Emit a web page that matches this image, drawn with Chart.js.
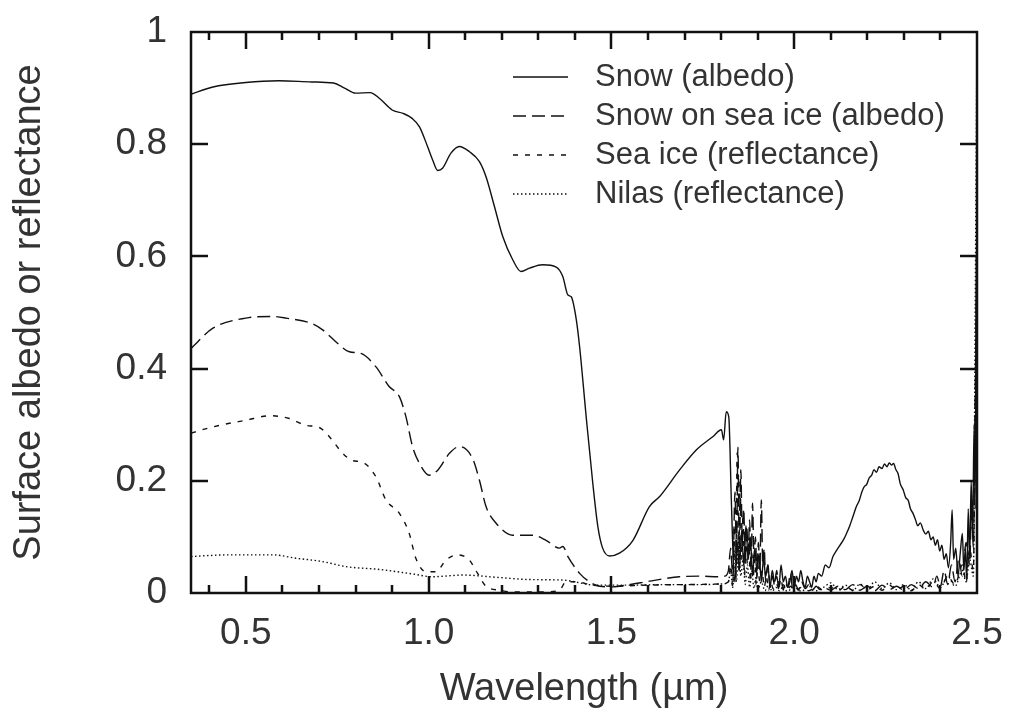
<!DOCTYPE html>
<html><head><meta charset="utf-8">
<script src="https://cdn.jsdelivr.net/npm/chart.js@4.4.1/dist/chart.umd.min.js"></script>
<style>html,body{margin:0;padding:0;background:#fff;overflow:hidden}</style>
</head><body>
<canvas id="c" width="1009" height="719"></canvas>
<script>
const seriesLabels = ['Snow (albedo)', 'Snow on sea ice (albedo)', 'Sea ice (reflectance)', 'Nilas (reflectance)'];
const xTickValues = [0.5, 1.0, 1.5, 2.0, 2.5];
const xMinorTicks = [0.4,0.5,0.6,0.7,0.8,0.9,1.0,1.1,1.2,1.3,1.4,1.5,1.6,1.7,1.8,1.9,2.0,2.1,2.2,2.3,2.4];
const yTickValues = [0, 0.2, 0.4, 0.6, 0.8, 1];

const snowWl = [
0.35,0.41,0.50,0.59,0.68,0.74,0.77,0.80,0.84,0.865,
0.90,0.93,0.955,0.975,0.997,1.011,1.025,1.038,1.061,1.084,
1.111,1.139,1.157,1.18,1.203,1.23,1.253,1.276,1.312,1.349,
1.367,1.381,1.39,1.404,1.413,1.431,1.449,1.463,1.476,1.495,
1.522,1.559,1.604,1.632,1.686,1.732,1.778,1.801,1.807,1.814,
1.821,1.828,1.834,
1.838,1.844,1.850,1.856,1.862,1.868,1.874,1.880,1.886,1.892,
1.898,1.904,1.910,1.916,1.922,1.928,1.934,1.940,1.946,1.952,
1.958,1.964,1.970,1.976,1.982,1.988,1.994,2.000,2.006,2.012,
2.018,2.024,2.030,2.036,2.042,2.048,2.054,2.060,2.066,
2.075,2.085,2.095,2.106,2.115,2.125,2.135,2.143,2.152,2.160,
2.170,2.178,2.185,2.192,2.198,2.205,2.212,2.218,2.225,2.232,
2.240,2.247,2.254,2.260,2.266,2.272,2.278,2.284,2.290,2.298,
2.305,2.312,2.318,2.325,2.332,2.338,2.345,2.353,2.360,2.367,
2.374,2.380,2.386,2.392,2.398,2.404,2.410,2.416,2.422,2.428,
2.432,2.436,2.442,2.448,2.454,2.460,2.464,2.468,2.472,2.476,
2.480,2.484,2.488,2.492,2.495,2.498,2.500];
const snowVal = [
0.889,0.902,0.910,0.913,0.911,0.909,0.900,0.891,0.892,0.882,
0.861,0.855,0.846,0.831,0.796,0.772,0.753,0.757,0.784,0.796,
0.787,0.769,0.742,0.689,0.635,0.594,0.573,0.579,0.585,0.581,
0.564,0.531,0.528,0.487,0.439,0.314,0.196,0.118,0.080,0.066,
0.071,0.094,0.154,0.172,0.219,0.255,0.279,0.291,0.273,0.323,
0.314,0.166,0.047,
0.02,0.09,0.04,0.11,0.05,0.12,0.06,0.10,0.03,0.08,
0.04,0.07,0.02,0.06,0.03,0.05,0.01,0.04,0.02,0.03,
0.01,0.05,0.02,0.03,0.01,0.02,0.04,0.01,0.03,0.02,
0.04,0.02,0.01,0.03,0.02,0.01,0.03,0.02,0.035,
0.03,0.05,0.045,0.065,0.075,0.085,0.095,0.106,0.12,0.135,
0.154,0.165,0.18,0.19,0.193,0.205,0.21,0.22,0.215,0.225,
0.222,0.23,0.225,0.232,0.228,0.231,0.22,0.213,0.195,0.184,
0.17,0.165,0.15,0.142,0.13,0.12,0.125,0.112,0.105,0.11,
0.095,0.1,0.085,0.095,0.075,0.085,0.06,0.07,0.045,0.09,
0.148,0.06,0.08,0.03,0.07,0.106,0.04,0.08,0.02,0.15,
0.06,0.2,0.1,0.3,0.15,0.6,0.3];

const snowIceWl = [
0.35,0.41,0.50,0.573,0.61,0.682,0.71,0.746,0.783,0.815,
0.856,0.892,0.92,0.938,0.956,0.975,1.002,1.025,1.057,1.084,
1.12,1.139,1.157,1.185,1.23,1.285,1.321,1.358,1.367,1.381,
1.413,1.44,1.468,1.503,1.55,1.595,1.64,1.686,1.74,1.795,
1.81,1.82,
1.826,1.832,1.838,1.842,1.846,1.850,1.854,1.858,1.862,1.866,
1.870,1.874,1.878,1.882,1.886,1.890,1.894,1.898,1.902,1.906,
1.910,1.914,1.918,1.922,1.928,1.934,1.940,1.946,1.952,1.958,
1.964,1.970,1.976,1.982,1.990,1.996,2.004,2.012,2.020,2.030,
2.040,2.050,2.060,2.070,2.080,2.100,2.120,2.140,2.160,2.180,
2.200,2.220,2.240,2.260,2.280,2.300,2.320,2.340,2.360,2.380,
2.390,2.400,2.410,2.420,2.430,2.440,2.450,2.460,2.470,2.480,
2.485,2.490,2.495,2.500];
const snowIceVal = [
0.436,0.472,0.490,0.493,0.490,0.480,0.469,0.448,0.430,0.427,
0.403,0.368,0.350,0.314,0.261,0.231,0.210,0.219,0.249,0.261,
0.240,0.201,0.154,0.124,0.103,0.103,0.094,0.080,0.083,0.065,
0.035,0.020,0.012,0.011,0.015,0.020,0.025,0.029,0.030,0.029,
0.030,0.040,
0.08,0.03,0.18,0.05,0.26,0.06,0.22,0.09,0.15,0.05,
0.12,0.07,0.13,0.04,0.16,0.06,0.10,0.03,0.09,0.04,
0.166,0.05,0.08,0.02,0.05,0.01,0.03,0.015,0.04,0.01,
0.025,0.005,0.02,0.01,0.035,0.005,0.015,0.005,0.02,0.008,
0.015,0.005,0.012,0.006,0.01,0.005,0.012,0.006,0.015,0.005,
0.012,0.004,0.014,0.006,0.012,0.005,0.015,0.008,0.02,0.01,
0.03,0.012,0.04,0.015,0.05,0.02,0.06,0.03,0.09,0.05,
0.15,0.08,0.35,0.6];

const seaIceWl = [
0.35,0.409,0.50,0.568,0.619,0.664,0.701,0.728,0.765,0.792,
0.819,0.856,0.883,0.92,0.947,0.965,0.993,1.02,1.048,1.079,
1.111,1.134,1.157,1.194,1.23,1.321,1.358,1.376,1.40,1.45,
1.50,1.60,1.70,1.80,1.82,
1.826,1.832,1.836,1.840,1.844,1.848,1.852,1.856,1.860,1.864,
1.868,1.872,1.876,1.880,1.884,1.888,1.892,1.896,1.900,1.906,
1.912,1.918,1.924,1.930,1.936,1.942,1.950,1.960,1.970,1.980,
1.990,2.000,2.020,2.040,2.060,2.080,2.100,2.120,2.140,2.160,
2.180,2.200,2.220,2.240,2.260,2.280,2.300,2.320,2.340,2.360,
2.380,2.400,2.420,2.440,2.460,2.470,2.480,2.490,2.495,2.500];
const seaIceVal = [
0.285,0.296,0.308,0.316,0.311,0.299,0.295,0.279,0.249,0.236,
0.233,0.207,0.166,0.142,0.106,0.062,0.038,0.038,0.059,0.068,
0.059,0.035,0.012,0.005,0.002,0.002,0.005,0.020,0.020,0.014,
0.012,0.014,0.015,0.016,0.020,
0.05,0.01,0.12,0.03,0.25,0.04,0.20,0.06,0.14,0.03,
0.10,0.05,0.09,0.02,0.07,0.03,0.06,0.015,0.05,0.02,
0.04,0.01,0.03,0.005,0.02,0.008,0.018,0.005,0.015,0.004,
0.012,0.003,0.01,0.004,0.012,0.005,0.01,0.004,0.012,0.005,
0.015,0.006,0.012,0.005,0.014,0.006,0.012,0.004,0.015,0.006,
0.02,0.008,0.03,0.015,0.05,0.02,0.08,0.04,0.3,0.5];

const nilasWl = [
0.35,0.454,0.573,0.637,0.71,0.774,0.865,0.956,1.011,1.093,
1.185,1.276,1.367,1.458,1.55,1.65,1.75,1.80,1.82,
1.826,1.832,1.838,1.842,1.848,1.854,1.860,1.866,1.872,1.878,
1.884,1.890,1.896,1.900,1.910,1.920,1.930,1.940,1.950,1.960,
1.970,1.980,2.000,2.020,2.040,2.060,2.080,2.100,2.120,2.140,
2.160,2.180,2.200,2.220,2.240,2.260,2.280,2.300,2.320,2.340,
2.360,2.380,2.400,2.420,2.440,2.460,2.470,2.480,2.490,2.495,
2.500];
const nilasVal = [
0.065,0.068,0.068,0.062,0.056,0.047,0.042,0.034,0.029,0.032,
0.028,0.024,0.023,0.014,0.014,0.015,0.015,0.016,0.020,
0.04,0.01,0.08,0.02,0.10,0.03,0.06,0.015,0.05,0.01,
0.04,0.008,0.03,0.005,0.02,0.004,0.015,0.003,0.01,0.004,
0.012,0.003,0.01,0.003,0.012,0.004,0.01,0.018,0.006,0.014,
0.004,0.016,0.006,0.02,0.008,0.018,0.006,0.015,0.005,0.02,
0.008,0.025,0.01,0.03,0.012,0.04,0.02,0.06,0.03,0.5,
1.0];

const FONT = '"Liberation Sans", Arial, Helvetica, sans-serif';
const TXT = '#333333';
function pts(xs, ys) {
  const n = Math.min(xs.length, ys.length);
  const out = [];
  for (let i = 0; i < n; i++) out.push({x: xs[i], y: ys[i]});
  return out;
}
const dashes = [[], [13, 6], [5, 7], [1.5, 2.5]];
const seriesData = [pts(snowWl, snowVal), pts(snowIceWl, snowIceVal), pts(seaIceWl, seaIceVal), pts(nilasWl, nilasVal)];

function zeroPad(s) { s.paddingTop = 0; s.paddingBottom = 0; s.paddingLeft = 0; s.paddingRight = 0; }

const frameTicks = {
  id: 'frameTicks',
  afterDatasetsDraw(chart) {
    const ctx = chart.ctx, a = chart.chartArea;
    const xs = chart.scales.x, ys = chart.scales.y;
    ctx.save();
    ctx.strokeStyle = '#111';
    ctx.lineWidth = 2.5;
    ctx.setLineDash([]);
    ctx.strokeRect(a.left, a.top, a.right - a.left, a.bottom - a.top);
    ctx.beginPath();
    xMinorTicks.forEach(v => {
      const px = Math.round(xs.getPixelForValue(v));
      const major = xTickValues.some(t => Math.abs(t - v) < 1e-6);
      const len = major ? 17 : 8;
      ctx.moveTo(px, a.bottom); ctx.lineTo(px, a.bottom - len);
      ctx.moveTo(px, a.top); ctx.lineTo(px, a.top + len);
    });
    yTickValues.forEach(v => {
      if (v <= 0 || v >= 1) return;
      const py = Math.round(ys.getPixelForValue(v));
      ctx.moveTo(a.left, py); ctx.lineTo(a.left + 17, py);
      ctx.moveTo(a.right, py); ctx.lineTo(a.right - 17, py);
    });
    ctx.stroke();
    ctx.restore();
  },
  afterDraw(chart) {
    const ctx = chart.ctx;
    const rows = [77, 116, 155, 194];
    ctx.save();
    chart.data.datasets.forEach((ds, i) => {
      const y = rows[i];
      ctx.beginPath();
      ctx.strokeStyle = '#111';
      ctx.lineWidth = 1.3;
      ctx.setLineDash(ds.borderDash || []);
      ctx.moveTo(513, y); ctx.lineTo(568, y);
      ctx.stroke();
      ctx.setLineDash([]);
      ctx.fillStyle = TXT;
      ctx.font = '31px ' + FONT;
      ctx.textAlign = 'left';
      ctx.textBaseline = 'middle';
      ctx.fillText(ds.label, 595, y);
    });
    ctx.restore();
  }
};

new Chart(document.getElementById('c'), {
  type: 'line',
  data: {
    datasets: seriesLabels.map((lab, i) => ({
      label: lab,
      data: seriesData[i],
      borderColor: '#111',
      borderWidth: 1.4,
      borderDash: dashes[i],
      pointRadius: 0,
      fill: false,
      cubicInterpolationMode: 'monotone'
    }))
  },
  options: {
    responsive: false,
    animation: false,
    devicePixelRatio: 1,
    parsing: false,
    layout: {padding: {left: 0, top: 32, right: 32, bottom: 0}},
    plugins: {legend: {display: false}, tooltip: {enabled: false}},
    scales: {
      x: {
        type: 'linear', min: 0.35, max: 2.5,
        afterBuildTicks: s => { s.ticks = xTickValues.map(v => ({value: v})); },
        afterFit: s => { s.height = 126; zeroPad(s); },
        grid: {display: false, drawTicks: false},
        border: {display: false},
        ticks: {padding: 19, color: TXT, maxRotation: 0, autoSkip: false,
                font: {family: FONT, size: 37},
                callback: v => Number(v).toFixed(1)},
        title: {display: true, text: 'Wavelength (µm)', color: TXT,
                font: {family: FONT, size: 38}, padding: {top: 0, bottom: 7}}
      },
      y: {
        type: 'linear', min: 0, max: 1,
        afterBuildTicks: s => { s.ticks = yTickValues.map(v => ({value: v})); },
        afterFit: s => { s.width = 191; zeroPad(s); },
        grid: {display: false, drawTicks: false},
        border: {display: false},
        ticks: {padding: 24, color: TXT, autoSkip: false,
                font: {family: FONT, size: 37},
                callback: v => (v === 0 || v === 1) ? String(v) : Number(v).toFixed(1)},
        title: {display: true, text: 'Surface albedo or reflectance', color: TXT,
                font: {family: FONT, size: 38}, padding: {top: 7, bottom: 0}}
      }
    }
  },
  plugins: [frameTicks]
});
</script>
</body></html>
